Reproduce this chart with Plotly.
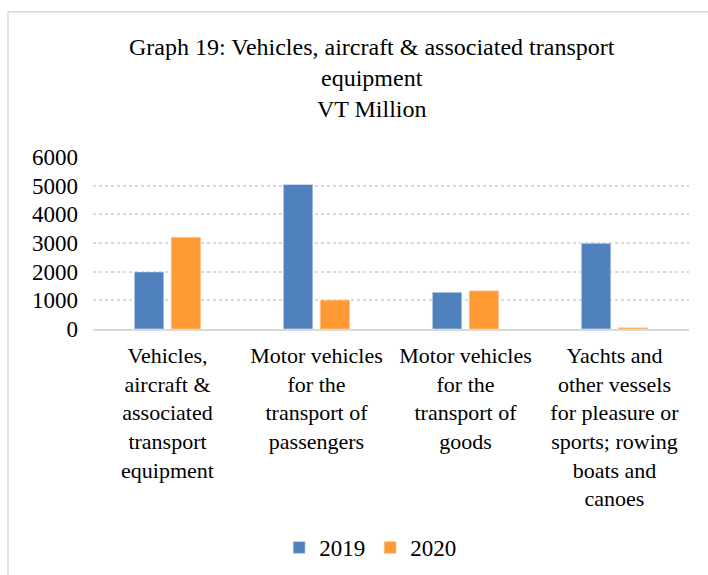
import plotly.graph_objs as go

categories = [
    "Vehicles,<br>aircraft &<br>associated<br>transport<br>equipment",
    "Motor vehicles<br>for the<br>transport of<br>passengers",
    "Motor vehicles<br>for the<br>transport of<br>goods",
    "Yachts and<br>other vessels<br>for pleasure or<br>sports; rowing<br>boats and<br>canoes",
]
values2019 = [1990, 5040, 1280, 2990]
values2020 = [3200, 1010, 1330, 45]
yTicks = [0, 1000, 2000, 3000, 4000, 5000, 6000]

serif = "Liberation Serif"

fig = go.Figure()
fig.add_trace(
    go.Bar(x=categories, y=values2019, name="2019",
           marker=dict(color="#4F81BD", line=dict(color="#dfe6f0", width=0.6)))
)
fig.add_trace(
    go.Bar(x=categories, y=values2020, name="2020",
           marker=dict(color="#FF9933", line=dict(color="#fbd9b4", width=0.6)))
)

# light outer border of the chart area (cropped on right and bottom)
fig.add_shape(
    type="rect", xref="paper", yref="paper",
    x0=-0.1426, x1=1.3, y0=-2.0, y1=1.845,
    line=dict(color="#d9d9d9", width=1.5), layer="below",
)

fig.update_layout(
    width=708,
    height=575,
    margin=dict(l=93, r=19, t=157, b=246, autoexpand=False),
    paper_bgcolor="white",
    plot_bgcolor="white",
    font=dict(family=serif, size=23, color="black"),
    title=dict(
        text="Graph 19: Vehicles, aircraft & associated transport<br>equipment<br>VT Million",
        x=0.525, xanchor="center", xref="container",
        y=0.905, yanchor="top", yref="container",
        font=dict(family=serif, size=24, color="black"),
    ),
    barmode="group",
    bargap=0.505,
    bargroupgap=0.2,
    showlegend=True,
    legend=dict(
        orientation="h", x=0.465, xanchor="center", y=-1.27, yanchor="middle",
        font=dict(family=serif, size=23), itemwidth=30,
    ),
)
fig.update_yaxes(
    range=[0, 6000], tickvals=yTicks, showgrid=True,
    gridcolor="#d9d9d9", griddash="dot", gridwidth=1.5,
    zeroline=False, showline=False, ticklabelstandoff=14,
    tickfont=dict(family=serif, size=23, color="black"), automargin=False,
)
fig.update_xaxes(
    showline=True, linecolor="#d9d9d9", linewidth=1.5,
    tickangle=0, ticks="", ticklabelstandoff=6,
    tickfont=dict(family=serif, size=22, color="black"), automargin=False,
)

# drop the default page margin so the figure sits at the window origin
fig.write_html(
    "out.html",
    config={"displayModeBar": False},
    post_script="document.body.style.margin='0';",
)
